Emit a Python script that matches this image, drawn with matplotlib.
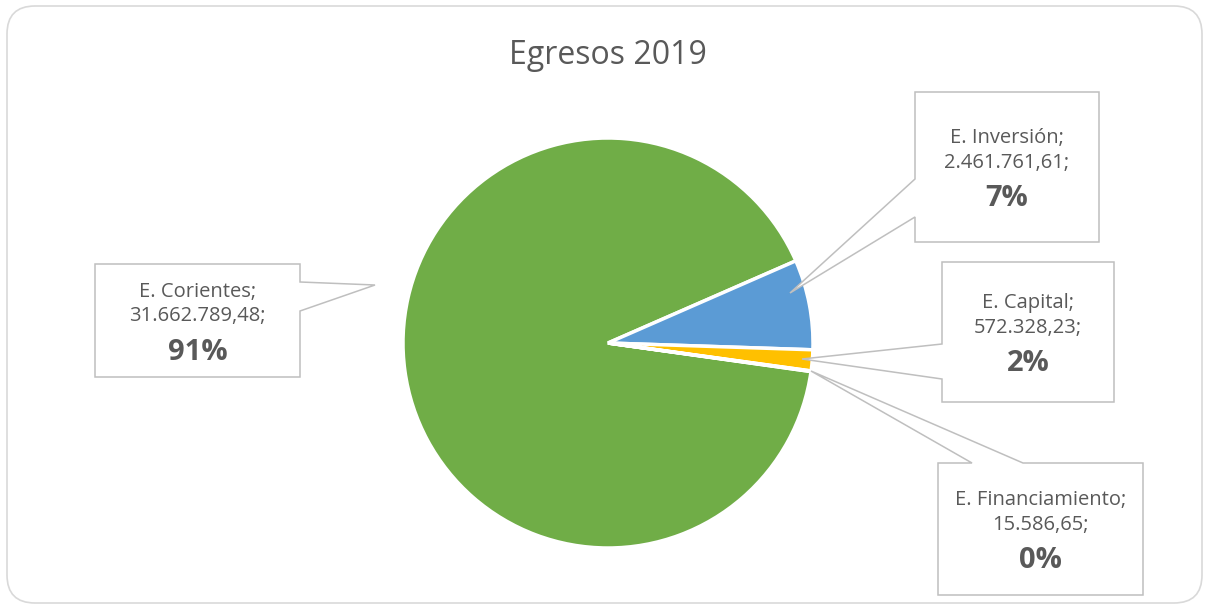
import matplotlib
matplotlib.use("Agg")
import matplotlib.pyplot as plt
from matplotlib.patches import Polygon, FancyBboxPatch

# ---- data ----
categories = ["E. Corientes", "E. Inversión", "E. Capital", "E. Financiamiento"]
value_labels = ["31.662.789,48", "2.461.761,61", "572.328,23", "15.586,65"]
values = [31662789.48, 2461761.61, 572328.23, 15586.65]
pct_labels = ["91%", "7%", "2%", "0%"]
colors = ["#70AD47", "#5B9BD5", "#FFC000", "#A5A5A5"]
title = "Egresos 2019"

# ---- layout (pixel coords, origin top-left) ----
W, H = 1205, 606
pie_cx, pie_cy, pie_r = 608, 343, 205
# box: (left, top, right, bottom), tail: (side, a, b), tip (x, y)
callouts = [
    ((95, 264, 300, 377), ("right", 282, 311), (375, 285)),
    ((915, 92, 1099, 242), ("left", 179, 217), (790, 293)),
    ((942, 262, 1114, 402), ("left", 344, 379), (802, 359)),
    ((938, 463, 1143, 595), ("top", 972, 1023), (811, 371)),
]

TXT = "#595959"
EDGE = "#BFBFBF"
FONT = "Open Sans"

fig = plt.figure(figsize=(W / 100, H / 100), dpi=100)
ax = fig.add_axes([0, 0, 1, 1])

def Y(y):
    return H - y

ax.pie(values, colors=colors, startangle=-8, counterclock=False,
       center=(pie_cx, Y(pie_cy)), radius=pie_r,
       wedgeprops=dict(edgecolor="white", linewidth=2.5))
ax.set_xlim(0, W)
ax.set_ylim(0, H)
ax.set_aspect("equal")
ax.axis("off")

# outer rounded border
border = FancyBboxPatch((7, Y(603)), 1195, 597,
                        boxstyle="round,pad=0,rounding_size=28",
                        facecolor="none", edgecolor="#D9D9D9", linewidth=1.2,
                        zorder=0)
ax.add_patch(border)

ax.text(608, Y(64), title, ha="center", va="baseline", fontsize=23,
        color=TXT, family=FONT)

for i, (box, tail, tip) in enumerate(callouts):
    l, t, r, b = box
    side, a, c = tail
    if side == "right":
        pts = [(l, t), (r, t), (r, a), tip, (r, c), (r, b), (l, b)]
    elif side == "left":
        pts = [(l, t), (r, t), (r, b), (l, b), (l, c), tip, (l, a)]
    else:  # top
        pts = [(l, t), (a, t), tip, (c, t), (r, t), (r, b), (l, b)]
    pts = [(x, Y(y)) for x, y in pts]
    ax.add_patch(Polygon(pts, closed=True, facecolor="white",
                         edgecolor=EDGE, linewidth=1.1, zorder=3))
    cx = (l + r) / 2
    cy = (t + b) / 2 + 1
    ax.text(cx, Y(cy - 25), categories[i] + ";", ha="center", va="baseline",
            fontsize=14.5, color=TXT, family=FONT, zorder=4)
    ax.text(cx, Y(cy), value_labels[i] + ";", ha="center", va="baseline",
            fontsize=14.5, color=TXT, family=FONT, zorder=4)
    ax.text(cx, Y(cy + 38), pct_labels[i], ha="center", va="baseline",
            fontsize=21, fontweight="bold", color=TXT, family=FONT, zorder=4)

fig.savefig("out.png", dpi=100, facecolor="white")
